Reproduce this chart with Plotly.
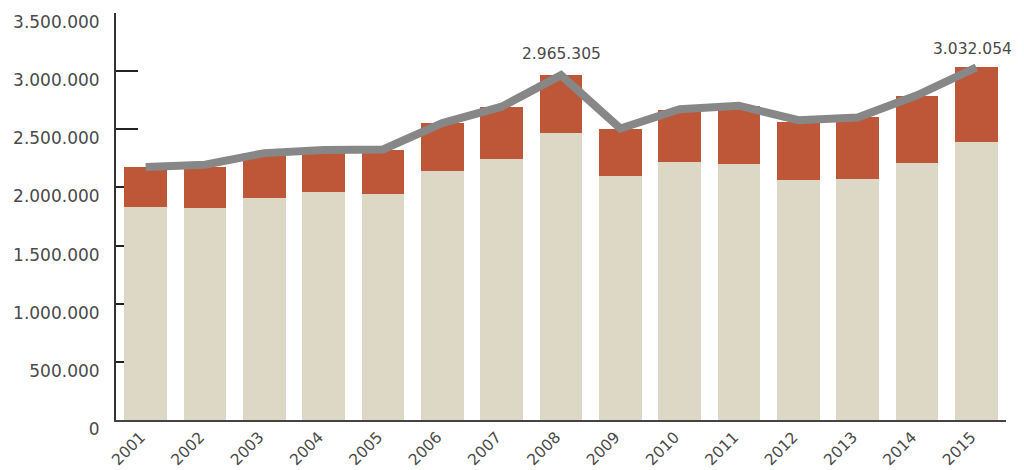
import plotly.graph_objects as go

years = ["2001", "2002", "2003", "2004", "2005", "2006", "2007", "2008",
         "2009", "2010", "2011", "2012", "2013", "2014", "2015"]
base_values = [1832000, 1823000, 1909000, 1961000, 1944000, 2141000, 2244000, 2468000,
               2098000, 2219000, 2201000, 2064000, 2072000, 2210000, 2391000]
top_values = [344000, 357000, 384000, 359000, 378000, 416000, 448000, 499000,
              404000, 447000, 499000, 499000, 534000, 576000, 645000]
total_line = [2176000, 2195000, 2295000, 2322000, 2326000, 2553000, 2694000, 2965305,
              2506000, 2672000, 2703000, 2578000, 2601000, 2792000, 3032054]
y_tickvals = [0, 500000, 1000000, 1500000, 2000000, 2500000, 3000000, 3500000]
y_ticktext = ["0", "500.000", "1.000.000", "1.500.000", "2.000.000",
              "2.500.000", "3.000.000", "3.500.000"]
labelled_years = ["2008", "2015"]

FONT = "DejaVu Sans"
TXT = "#4a4a4a"

fig = go.Figure()
fig.add_trace(go.Bar(x=years, y=base_values, marker=dict(color="#ddd7c5", line=dict(width=0)),
                     hoverinfo="skip"))
fig.add_trace(go.Bar(x=years, y=top_values, marker=dict(color="#bd5737", line=dict(width=0)),
                     hoverinfo="skip"))
fig.add_trace(go.Scatter(x=years, y=total_line, mode="lines",
                         line=dict(color="#878787", width=8), hoverinfo="skip"))


def fmt(v):
    return f"{v:,}".replace(",", ".")


shifts = {"2008": (0, 21), "2015": (-4, 18)}
for yr in labelled_years:
    i = years.index(yr)
    xs, ys = shifts[yr]
    fig.add_annotation(x=i, y=total_line[i], xref="x", yref="y",
                       text=fmt(total_line[i]),
                       showarrow=False, xanchor="center", yanchor="middle",
                       xshift=xs, yshift=ys,
                       font=dict(family=FONT, size=15.5, color=TXT))

fig.update_layout(
    width=1016, height=462,
    margin=dict(l=108, r=18, t=5, b=50),
    paper_bgcolor="white", plot_bgcolor="white",
    barmode="stack", bargap=0.276,
    showlegend=False,
    xaxis=dict(type="category", range=[-0.5, 14.5], showgrid=False, zeroline=False,
               showline=True, linecolor="#444444", linewidth=2, automargin=False,
               ticks="", tickangle=-45, ticklabelstandoff=0, ticklabelshift=-5,
               tickfont=dict(family=FONT, size=15.5, color=TXT), layer="below traces"),
    yaxis=dict(range=[0, 3500000], showgrid=False, zeroline=False, automargin=False,
               showline=True, linecolor="#333333", linewidth=2,
               ticks="inside", ticklen=22, tickwidth=2, tickcolor="#222222",
               tickvals=y_tickvals, ticktext=y_ticktext,
               ticklabelstandoff=11, ticklabelshift=9,
               tickfont=dict(family=FONT, size=17, color=TXT), layer="below traces"),
)

fig.write_html("out.html")
